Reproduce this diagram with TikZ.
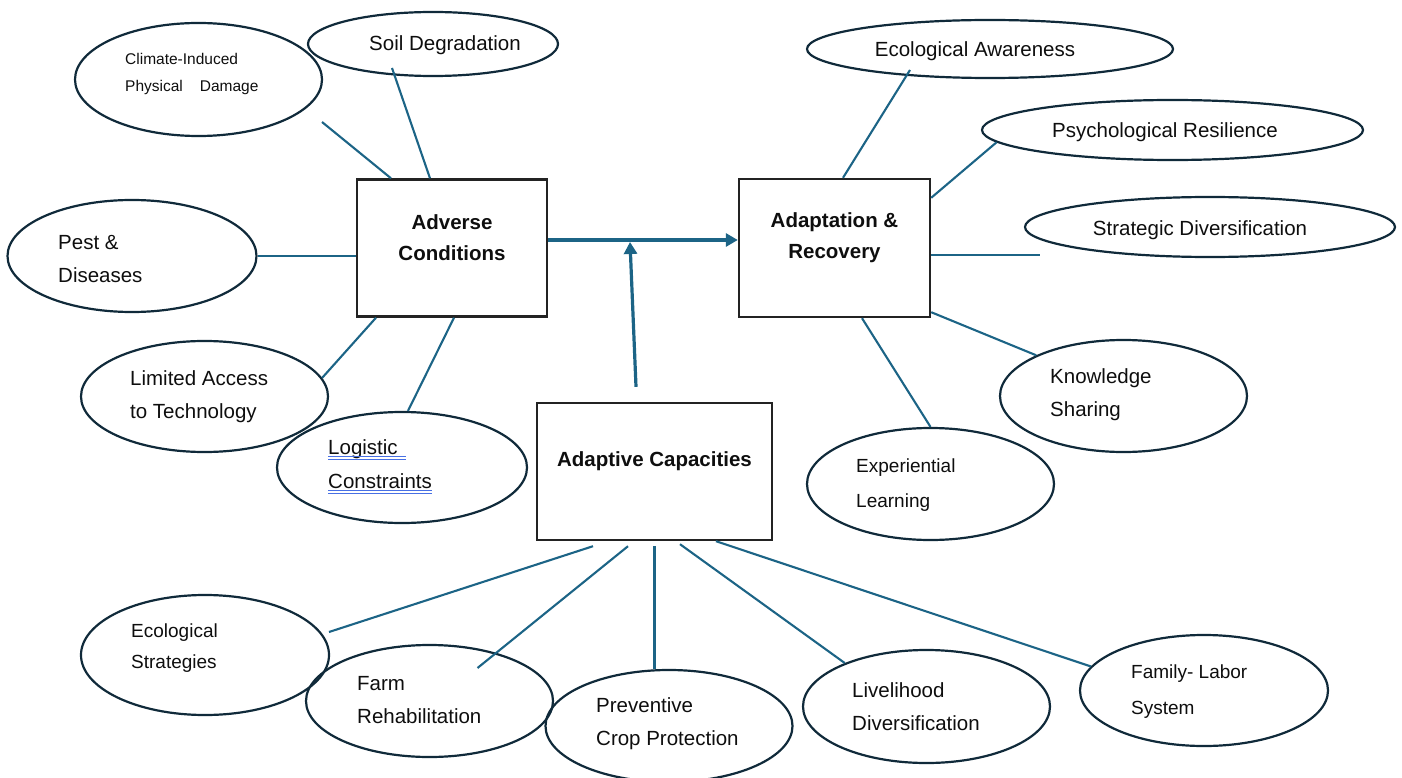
\documentclass[tikz,border=0pt]{standalone}
\usepackage{fontspec}
\setmainfont{Liberation Sans}
\usepackage{xcolor}
\usepackage{tikz}
\usetikzlibrary{shapes.geometric, arrows.meta, positioning, calc}

\definecolor{linkblue}{RGB}{28,100,134}
\definecolor{ellnavy}{RGB}{16,42,58}
\definecolor{boxgray}{RGB}{35,35,35}
\definecolor{inkgray}{RGB}{14,14,14}
\definecolor{spellblue}{RGB}{72,112,228}

\tikzset{
  factorbox/.style={
    draw=boxgray, line width=2.4pt, inner sep=0pt
  },
  boxtext/.style={
    align=center, inner sep=0pt, text=inkgray,
    font=\bfseries\fontsize{20.5}{31}\selectfont
  },
  factorell/.style={
    ellipse, draw=ellnavy, line width=2.2pt, inner sep=0pt
  },
  elltext/.style={
    anchor=west, align=left, inner sep=0pt, text=inkgray,
    font=\fontsize{20.5}{33}\selectfont
  },
  linkline/.style={draw=linkblue, line width=2.1pt},
  linkarrow/.style={
    draw=linkblue, line width=3.2pt, -{Triangle[length=12pt,width=13pt]}
  },
  spellline/.style={draw=spellblue, line width=1pt},
}

\begin{document}
\begin{tikzpicture}[x=1pt, y=-1pt]
  \clip (0,0) rectangle (1402,778);

  % Adverse Conditions
  \node[factorbox, minimum width=190pt, minimum height=137pt] (adv) at (452,248) {};
  \node[boxtext] (advT) at ([yshift=10pt]adv.center) {Adverse\\Conditions};

  % Adaptation & Recovery
  \node[factorbox, minimum width=191pt, minimum height=138pt] (adt) at (834.5,248) {};
  \node[boxtext] (adtT) at ([yshift=10pt]adt.center) {Adaptation \&\\Recovery};

  % Adaptive Capacities
  \node[factorbox, minimum width=235pt, minimum height=137pt] (cap) at (654.5,471.5) {};
  \node[boxtext] (capT) at ([yshift=10pt]cap.center) {Adaptive Capacities};

  % Adverse factors
  \node[factorell, minimum width=247pt, minimum height=113pt] (clim) at (198.5,79.5) {};
  \node[elltext, font=\fontsize{15.5}{27}\selectfont] (climT) at (125,73.5)
    {Climate-Induced\\Physical\hspace{17pt}Damage};

  \node[factorell, minimum width=250pt, minimum height=64pt] (soil) at (433,44) {};
  \node[elltext, anchor=center] (soilT) at (445,45) {Soil Degradation};

  \node[factorell, minimum width=249pt, minimum height=112pt] (pest) at (132,256) {};
  \node[elltext] (pestT) at (58,259.5) {Pest \&\\Diseases};

  \node[factorell, minimum width=247pt, minimum height=111pt] (lim) at (204.5,396.5) {};
  \node[elltext] (limT) at (130,396.5) {Limited Access\\to Technology};

  \node[factorell, minimum width=250pt, minimum height=111pt] (logis) at (402,467.5) {};
  \node[elltext] (logA) at (328,449) {Logistic};
  \node[elltext] (logB) at (328,481) {Constraints};
  \draw[spellline] ([yshift=-2pt]logA.base west) -- ([shift={(8,2)}]logA.base east);
  \draw[spellline] ([yshift=-5pt]logA.base west) -- ([shift={(8,5)}]logA.base east);
  \draw[spellline] ([yshift=-2pt]logB.base west) -- ([yshift=-2pt]logB.base east);
  \draw[spellline] ([yshift=-5pt]logB.base west) -- ([yshift=-5pt]logB.base east);

  % Recovery factors
  \node[factorell, minimum width=366pt, minimum height=58pt] (ecoaw) at (990,49) {};
  \node[elltext, anchor=center] (ecoawT) at (975,51) {Ecological Awareness};

  \node[factorell, minimum width=381pt, minimum height=60pt] (psych) at (1172.5,130) {};
  \node[elltext, anchor=center] (psychT) at (1165,132) {Psychological Resilience};

  \node[factorell, minimum width=370pt, minimum height=60pt] (strat) at (1210,227) {};
  \node[elltext, anchor=center] (stratT) at (1200,230) {Strategic Diversification};

  \node[factorell, minimum width=247pt, minimum height=112pt] (know) at (1123.5,396) {};
  \node[elltext] (knowT) at (1050,394.5) {Knowledge\\Sharing};

  \node[factorell, minimum width=247pt, minimum height=112pt] (exper) at (930.5,484) {};
  \node[elltext, font=\fontsize{19}{35}\selectfont] (experT) at (856,485.5)
    {Experiential\\Learning};

  % Capacity factors
  \node[factorell, minimum width=248pt, minimum height=120pt] (ecostr) at (205,655) {};
  \node[elltext, font=\fontsize{19}{31}\selectfont] (ecostrT) at (131,648.5)
    {Ecological\\Strategies};

  \node[factorell, minimum width=247pt, minimum height=112pt] (farm) at (429.5,701) {};
  \node[elltext] (farmT) at (357,700.5) {Farm\\Rehabilitation};

  \node[factorell, minimum width=247pt, minimum height=112pt] (prev) at (669,726) {};
  \node[elltext] (prevT) at (596,724) {Preventive\\Crop Protection};

  \node[factorell, minimum width=247pt, minimum height=113pt] (live) at (926.5,706.5) {};
  \node[elltext] (liveT) at (852,706.5) {Livelihood\\Diversification};

  \node[factorell, minimum width=248pt, minimum height=111pt] (fam) at (1204,690.5) {};
  \node[elltext, font=\fontsize{19}{36}\selectfont] (famT) at (1131,692)
    {Family- Labor\\System};

  % Main flow
  \coordinate (merge) at (630,242);
  \draw[linkarrow] ([yshift=8pt]adv.east) -- ([yshift=8pt]adt.west);
  \draw[linkarrow] ([shift={(-18.5,-15)}]cap.north) -- (merge);

  % Adverse links
  \coordinate (climEnd) at (322,122);
  \draw[linkline] ([xshift=-22pt]adv.north) -- ([shift={(-41,24)}]soil.center);
  \draw[linkline] ([xshift=-61pt]adv.north) -- (climEnd);
  \draw[linkline] (adv.west |- pest.east) -- (pest.east);
  \draw[linkline] ([xshift=-76pt]adv.south) -- (lim.9);
  \draw[linkline] ([xshift=2pt]adv.south) -- (logis.84);

  % Recovery links
  \coordinate (stratEnd) at (1040,255);
  \draw[linkline] ([xshift=8.5pt]adt.north) -- ([shift={(-80,21)}]ecoaw.center);
  \draw[linkline] ([yshift=-20pt]adt.north east) -- (psych.184);
  \draw[linkline] (adt.east |- stratEnd) -- (stratEnd);
  \draw[linkline] ([yshift=6pt]adt.south east) -- (know.155);
  \draw[linkline] ([xshift=27.5pt]adt.south) -- (exper.north);

  % Capacity links
  \draw[linkline] ([shift={(-61.5,5)}]cap.south) -- ([shift={(124,-23)}]ecostr.center);
  \draw[linkline] ([shift={(-26.5,5)}]cap.south) -- ([shift={(48,-33)}]farm.center);
  \draw[linkline] ([yshift=-5pt]cap.south) -- (cap.south |- prev.north);
  \draw[linkline] ([shift={(25.5,3)}]cap.south) -- (live.152);
  \draw[linkline] ([xshift=61.5pt]cap.south) -- (fam.168);
\end{tikzpicture}
\end{document}
